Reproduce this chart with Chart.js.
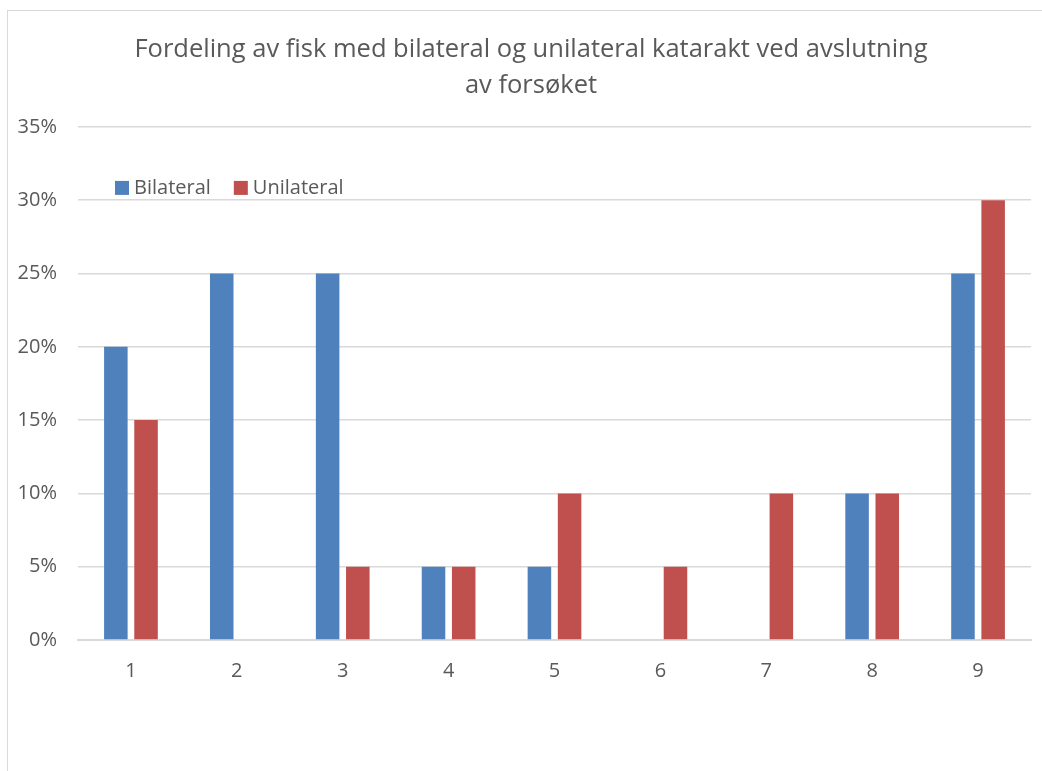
<!DOCTYPE html>
<html lang="en">
<head>
    <meta charset="UTF-8">
    <title>Katarakt</title>
    <script src="https://cdn.jsdelivr.net/npm/chart.js@4.4.0/dist/chart.umd.min.js"></script>
    <style>
      body { margin: 0; background: #fff; }
      #wrap { position: absolute; left: 0; top: 0; width: 1042px; height: 771px; }
      #frame { position: absolute; left: 7px; top: 10px; width: 1100px; height: 900px;
               border-left: 1px solid #d9d9d9; border-top: 1px solid #d9d9d9; }
    </style>
</head>
<body>
  <div id="wrap">
    <div id="frame"></div>
    <canvas id="chart" width="1042" height="771"></canvas>
  </div>

  <script>
    /* Data (percent). */
    const categories = ["1", "2", "3", "4", "5", "6", "7", "8", "9"]
    const bilateral = [20, 25, 25, 5, 5, 0, 0, 10, 25]
    const unilateral = [15, 0, 5, 5, 10, 5, 10, 10, 30]
    const titleLines = ["Fordeling av fisk med bilateral og unilateral katarakt ved avslutning", "av forsøket"]

    const FONT = "'Open Sans', 'Liberation Sans', sans-serif"
    const GREY = "#595959"

    /* Legend drawn inside the plot area, top left. */
    const innerLegend = {
      id: "innerLegend",
      afterLayout(chart) {
        /* title sits a bit right of canvas centre in the original */
        if (chart.titleBlock) chart.titleBlock.left = 31
      },
      afterDraw(chart) {
        const ctx = chart.ctx
        const area = chart.chartArea
        let x = area.left + 37
        const y = area.top + 61
        ctx.save()
        ctx.font = "20px " + FONT
        ctx.textBaseline = "middle"
        chart.data.datasets.forEach(ds => {
          ctx.fillStyle = ds.backgroundColor
          ctx.fillRect(x, y - 7, 14, 14)
          ctx.fillStyle = GREY
          ctx.fillText(ds.label, x + 19, y)
          x += 19 + ctx.measureText(ds.label).width + 23
        })
        ctx.restore()
      }
    }

    const ctx = document.getElementById("chart").getContext("2d")
    new Chart(ctx, {
      type: "bar",
      data: {
        labels: categories,
        datasets: [
          { label: "Bilateral", data: bilateral, backgroundColor: "#4f81bd" },
          { label: "Unilateral", data: unilateral, backgroundColor: "#c0504d" }
        ]
      },
      options: {
        responsive: false,
        animation: false,
        categoryPercentage: 0.57,
        barPercentage: 0.78,
        layout: { padding: { left: 0, right: 11, top: 0, bottom: 91 } },
        plugins: {
          legend: { display: false },
          tooltip: { enabled: false },
          title: {
            display: true,
            text: titleLines,
            color: GREY,
            font: { family: FONT, size: 25.5, weight: "normal", lineHeight: 1.41 },
            padding: { top: 32, bottom: 23 }
          }
        },
        scales: {
          x: {
            afterFit(scale) { scale.height = 40 },
            grid: { display: false },
            border: { color: "#d9d9d9", width: 2 },
            ticks: { color: GREY, font: { family: FONT, size: 20 }, padding: 11 }
          },
          y: {
            min: 0,
            max: 35,
            afterFit(scale) { scale.width = 78 },
            ticks: {
              stepSize: 5,
              color: GREY,
              padding: 21,
              font: { family: FONT, size: 20 },
              callback: v => v + "%"
            },
            grid: { color: "#d9d9d9", lineWidth: 1.5, drawTicks: false },
            border: { display: false }
          }
        }
      },
      plugins: [innerLegend]
    })
  </script>
</body>
</html>
